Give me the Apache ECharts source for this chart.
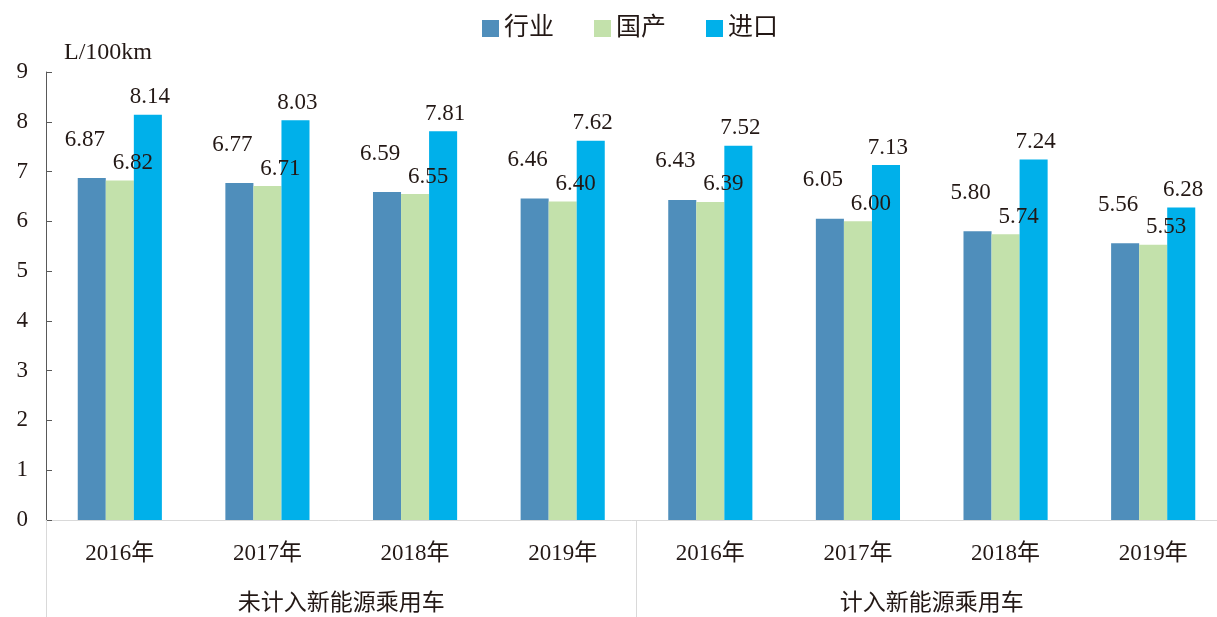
<!DOCTYPE html>
<html>
<head>
<meta charset="utf-8">
<script src="https://cdn.jsdelivr.net/npm/echarts@6/dist/echarts.min.js"></script>
<style>
	html, body { margin: 0; padding: 0; background: #fff; }
	#chart { width: 1217px; height: 617px; }
</style>
</head>
<body>
<div id="chart"></div>
<script>
	var FONT = '"Liberation Serif", "Times New Roman", "Noto Sans CJK SC", serif';

	//类别
	var categories = ['2016年', '2017年', '2018年', '2019年', '2016年', '2017年', '2018年', '2019年'];
	var groups = ['未计入新能源乘用车', '计入新能源乘用车'];
	//数据
	var hangye = [6.87, 6.77, 6.59, 6.46, 6.43, 6.05, 5.80, 5.56];
	var guochan = [6.82, 6.71, 6.55, 6.40, 6.39, 6.00, 5.74, 5.53];
	var jinkou = [8.14, 8.03, 7.81, 7.62, 7.52, 7.13, 7.24, 6.28];
	var yTicks = [0, 1, 2, 3, 4, 5, 6, 7, 8, 9];

	function barLabel(offset) {
		return {
			show: true, position: 'top', distance: 5, offset: offset,
			color: '#231815', fontFamily: FONT, fontSize: 23,
			formatter: function (p) { return p.value.toFixed(2); }
		};
	}

	var option = {
		animation: false,
		color: ['#4F8EBB', '#C3E1AB', '#00B0EA'],
		legend: {
			top: 11, left: 477, itemWidth: 17, itemHeight: 17, itemGap: 40,
			icon: 'rect',
			textStyle: { fontFamily: FONT, fontSize: 25, color: '#231815' },
			data: ['行业', '国产', '进口']
		},
		grid: { left: 46, top: 72, right: -10, bottom: 97, outerBoundsMode: 'none' },
		xAxis: [{
			type: 'category', data: categories,
			axisLine: { show: true, lineStyle: { color: '#d9d9d9', width: 1 } },
			axisTick: { show: false },
			axisLabel: { margin: 22, fontFamily: FONT, fontSize: 23, color: '#231815' }
		}, {
			type: 'category', data: groups, position: 'bottom',
			axisLine: { show: false },
			axisTick: { show: true, length: 97, lineStyle: { color: '#d9d9d9' } },
			axisLabel: { margin: 72, fontFamily: FONT, fontSize: 23, color: '#231815' }
		}],
		yAxis: {
			type: 'value', min: yTicks[0], max: yTicks[yTicks.length - 1], interval: 1,
			name: 'L/100km', nameLocation: 'end', nameGap: 7,
			nameTextStyle: { fontFamily: FONT, fontSize: 24, color: '#231815', align: 'left', padding: [0, 0, 0, 18] },
			axisLine: { show: true, lineStyle: { color: '#595959' } },
			axisTick: { show: true, inside: true, length: 6, lineStyle: { color: '#595959' } },
			axisLabel: { margin: 18, fontFamily: FONT, fontSize: 23, color: '#231815' },
			splitLine: { show: false }
		},
		series: [{
			name: '行业', type: 'bar', data: hangye, barWidth: '19%', barGap: '0%',
			label: barLabel([-7, -22])
		}, {
			name: '国产', type: 'bar', data: guochan, barWidth: '19%', barGap: '0%',
			label: barLabel([13, -1])
		}, {
			name: '进口', type: 'bar', data: jinkou, barWidth: '19%', barGap: '0%',
			label: barLabel([2, -1])
		}]
	};

	var myChart = echarts.init(document.getElementById('chart'));
	myChart.setOption(option);
</script>
</body>
</html>
